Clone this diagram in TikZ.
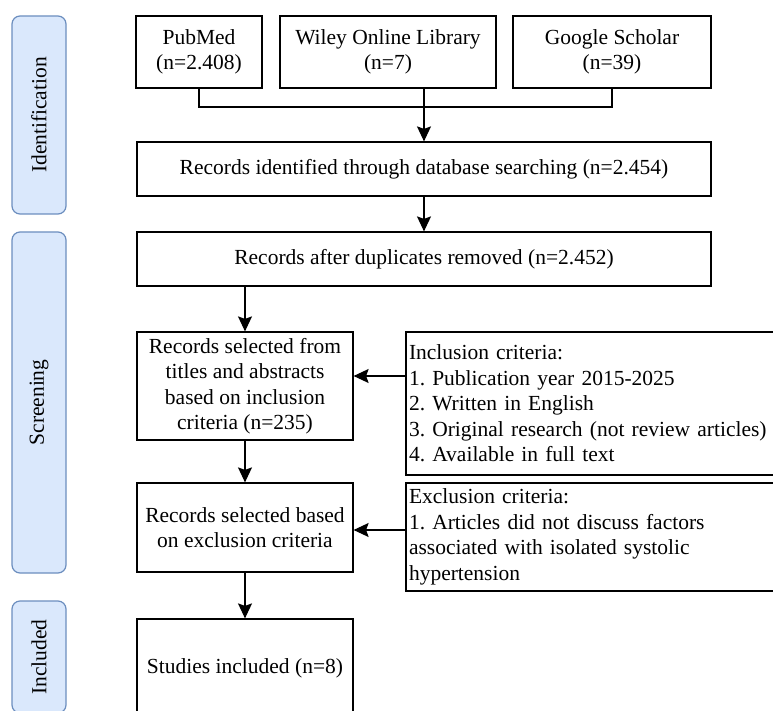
\documentclass[tikz,border=0pt]{standalone}
\usepackage{fontspec}
\setmainfont{Liberation Serif}
\usetikzlibrary{arrows.meta}
\definecolor{phasefill}{HTML}{DAE8FC}
\definecolor{phasedraw}{HTML}{6C8EBF}
\frenchspacing
\begin{document}
\begin{tikzpicture}[x=1pt,y=-1pt,
  box/.style={draw=black, line width=1.2pt, inner sep=3pt, align=center,
    font=\fontsize{21.5}{25.5}\selectfont},
  lbox/.style={box, align=left, anchor=center},
  phase/.style={draw=phasedraw, fill=phasefill, line width=1.2pt, rounded corners=8pt,
    rotate=90, inner sep=0pt, font=\fontsize{21.5}{25.5}\selectfont},
  arr/.style={line width=1.2pt, -{Stealth[length=15pt,width=14pt,inset=2.5pt]}},
  conn/.style={line width=1.2pt}]
\useasboundingbox (0,0) rectangle (773,711);
\clip (0,0) rectangle (773,711);
\fill[white] (0,0) rectangle (773,711);

% phases
\node[phase, minimum width=198pt, minimum height=54pt] (pid) at (39,115) {Identification};
\node[phase, minimum width=341pt, minimum height=54pt] (pscr) at (39,402.5) {Screening};
\node[phase, minimum width=112pt, minimum height=54pt] (pinc) at (39,657) {Included};

% top row
\node[box, minimum width=126pt, minimum height=72pt] (pub) at (199,52) {PubMed\\(n=2.408)};
\node[box, minimum width=216pt, minimum height=72pt] (wil) at (388,52) {Wiley Online Library\\(n=7)};
\node[box, minimum width=198pt, minimum height=72pt] (goo) at (612,52) {Google Scholar\\(n=39)};

\node[box, minimum width=574pt, minimum height=54pt] (rid) at (424,169) {Records identified through database searching (n=2.454)};
\node[box, minimum width=574pt, minimum height=54pt] (rad) at (424,259) {Records after duplicates removed (n=2.452)};

\node[box, minimum width=216pt, minimum height=108pt] (sel1) at (245,386) {Records selected from\\titles and abstracts\\based on inclusion\\criteria (n=235)};
\node[lbox, text width=378pt, minimum height=143pt] (inc) at (598,403.5) {Inclusion criteria:\\1. Publication year 2015-2025\\2. Written in English\\3. Original research (not review articles)\\4. Available in full text};

\node[box, minimum width=216pt, minimum height=89pt] (sel2) at (245,527.5) {Records selected based\\on exclusion criteria};
\node[lbox, text width=378pt, minimum height=108pt] (exc) at (598,537) {Exclusion criteria:\\1. Articles did not discuss factors\\associated with isolated systolic\\hypertension};

\node[box, minimum width=216pt, minimum height=98pt] (stu) at (245,668) {Studies included (n=8)};

% connectors
\coordinate (jn) at (424,107);
\draw[conn] (pub.south) |- (jn) -| (goo.south);
\draw[arr] (wil.south -| rid.north) -- (rid.north);
\draw[arr] (rid.south) -- (rad.north);
\draw[arr] (rad.south -| sel1.north) -- (sel1.north);
\coordinate (ia) at (406,376);
\draw[arr] (ia) -- (ia -| sel1.east);
\draw[arr] (sel1.south) -- (sel2.north);
\coordinate (ea) at (406,530);
\draw[arr] (ea) -- (ea -| sel2.east);
\draw[arr] (sel2.south) -- (stu.north);
\end{tikzpicture}
\end{document}
